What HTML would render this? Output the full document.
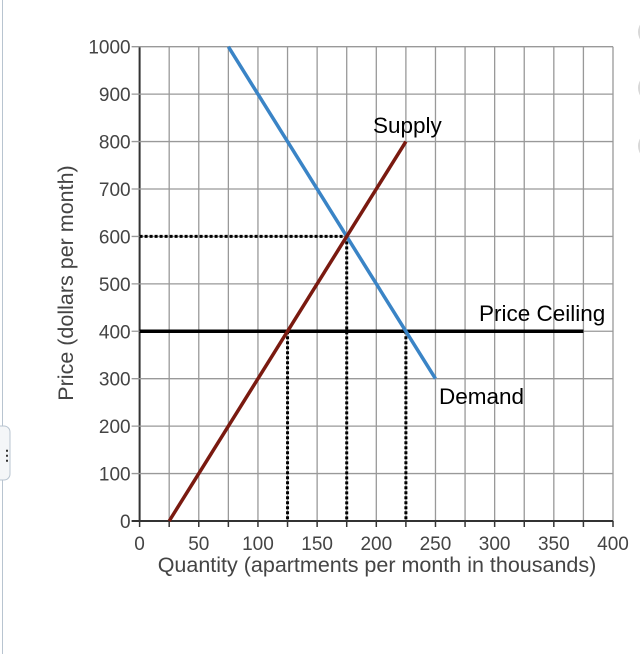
<!DOCTYPE html>
<html><head><meta charset="utf-8"><style>
body{margin:0;width:640px;height:654px;background:#fff;overflow:hidden;font-family:"Liberation Sans",sans-serif;}
svg{position:absolute;left:0;top:0}
</style></head><body>
<svg width="640" height="654">
<line x1="2.5" y1="0" x2="2.5" y2="654" stroke="#b8c4d0" stroke-width="1"/>
<rect x="-6" y="426" width="16" height="54" rx="6" fill="#f4f6f8" stroke="#b8c4d0"/>
<text x="0" y="460" font-size="14" font-weight="bold" fill="#333">⋮</text>
<circle cx="652" cy="32" r="14" fill="#d8d8d8"/>
<circle cx="652" cy="88" r="14" fill="#d8d8d8"/>
<circle cx="652" cy="146" r="14" fill="#d8d8d8"/>
<g id="grid"></g><g id="marks"></g><g id="labels"></g>
</svg>
<script>
const xTicks=[0,50,100,150,200,250,300,350,400];
const yTicks=[0,100,200,300,400,500,600,700,800,900,1000];
const supplyQ=[25,225], supplyP=[0,800];
const demandQ=[75,250], demandP=[1000,300];
const ceilingP=400, ceilingQ=[0,375];
const eqQ=175, eqP=600;
const shortageQ=[125,225];
const X0=139.6,X1=613,Y0=521,Y1=46.7;
const xs=v=>X0+(v/400)*(X1-X0), ys=v=>Y0-(v/1000)*(Y0-Y1);
const NS="http://www.w3.org/2000/svg";
function mk(parent,tag,attrs){const e=document.createElementNS(NS,tag);for(const k in attrs)e.setAttribute(k,attrs[k]);document.getElementById(parent).appendChild(e);return e;}
for(let q=0;q<=400;q+=25){
 const e=mk('grid','line',{x1:xs(q),x2:xs(q),y1:ys(1000),y2:ys(0),stroke:q===0?'#333':'#999','stroke-width':q===0?2:1.3});
 
 
 const t=mk('grid','line',{x1:xs(q),x2:xs(q),y1:ys(0),y2:ys(0)+6,stroke:'#333','stroke-width':1.5});
 
 
}
yTicks.forEach(p=>{
 const e=mk('grid','line',{x1:xs(0)-8,x2:xs(400),y1:ys(p),y2:ys(p),stroke:p===0?'#333':'#999','stroke-width':p===0?2:1.3});
 
 
 const t=mk('labels','text',{x:xs(0)-9,y:ys(p)+7,'text-anchor':'end','font-size':19,fill:'#444'});
 t.textContent=p;
 
 
});
xTicks.forEach(q=>{
 const t=mk('labels','text',{x:xs(q),y:550,'text-anchor':'middle','font-size':19,fill:'#444'});
 t.textContent=q;
 
 
});
let d=mk('marks','line',{x1:xs(0),x2:xs(eqQ),y1:ys(eqP),y2:ys(eqP),stroke:'#000','stroke-width':3,'stroke-dasharray':'3,2'});


d=mk('marks','line',{x1:xs(eqQ),x2:xs(eqQ),y1:ys(eqP),y2:ys(0),stroke:'#000','stroke-width':3,'stroke-dasharray':'3,2'});


shortageQ.forEach(q=>{
 const g=mk('marks','line',{x1:xs(q),x2:xs(q),y1:ys(ceilingP),y2:ys(0),stroke:'#000','stroke-width':3,'stroke-dasharray':'3,2'});
 
 
});
let l=mk('marks','line',{x1:xs(ceilingQ[0]),x2:xs(ceilingQ[1]),y1:ys(ceilingP),y2:ys(ceilingP),stroke:'#000','stroke-width':3.5});


l=mk('marks','line',{x1:xs(demandQ[0]),y1:ys(demandP[0]),x2:xs(demandQ[1]),y2:ys(demandP[1]),stroke:'#3a84c6','stroke-width':3.5});


l=mk('marks','line',{x1:xs(supplyQ[0]),y1:ys(supplyP[0]),x2:xs(supplyQ[1]),y2:ys(supplyP[1]),stroke:'#7a1a10','stroke-width':3.5});


const lab=(txt,x,y,name)=>{const t=mk('labels','text',{x:x,y:y,'font-size':22.5,fill:'#000'});t.textContent=txt;};
lab('Supply',373,133,'supply-label');
lab('Price Ceiling',479,321,'price-ceiling-label');
lab('Demand',439,404,'demand-label');
let t=mk('labels','text',{x:377,y:572,'text-anchor':'middle','font-size':21.5,fill:'#444'});
t.textContent='Quantity (apartments per month in thousands)';


t=mk('labels','text',{x:0,y:0,'text-anchor':'middle','font-size':21.5,fill:'#444',transform:'translate(73,283) rotate(-90)'});
t.textContent='Price (dollars per month)';


</script>
</body></html>
